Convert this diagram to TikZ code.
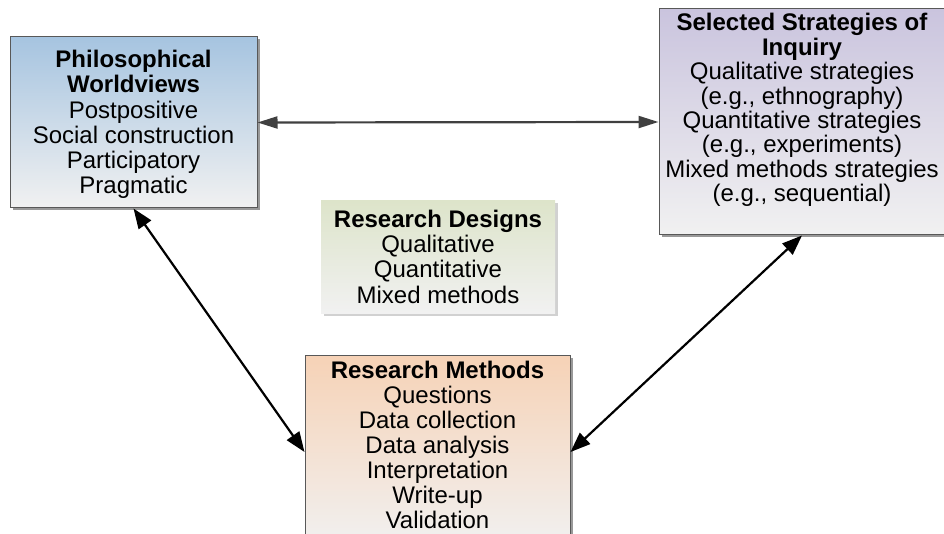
\documentclass[tikz,border=0pt]{standalone}
\usepackage{fontspec}
\setmainfont{Liberation Sans}
\usetikzlibrary{arrows.meta,shadows}

\definecolor{pwtop}{RGB}{166,196,224}
\definecolor{sstop}{RGB}{202,196,222}
\definecolor{rdtop}{RGB}{221,228,202}
\definecolor{rmtop}{RGB}{246,210,182}
\definecolor{panelbottom}{RGB}{241,241,241}
\definecolor{framegray}{RGB}{88,88,88}
\definecolor{linkgray}{RGB}{64,64,64}

\begin{document}
\begin{tikzpicture}[x=1pt,y=-1pt,
  panel/.style={draw=framegray, line width=1pt, inner sep=0pt,
    shading=axis, bottom color=panelbottom,
    drop shadow={shadow xshift=2.5pt, shadow yshift=-2.5pt, fill=black!40, opacity=1}},
  plainpanel/.style={inner sep=0pt, shading=axis, bottom color=panelbottom,
    drop shadow={shadow xshift=2.5pt, shadow yshift=-2.5pt, fill=black!18, opacity=1}},
  label/.style={align=center, inner sep=0pt, font=\fontsize{24}{25.3}\selectfont},
  tightlabel/.style={label, font=\fontsize{24}{24.4}\selectfont},
  methodslabel/.style={label, font=\fontsize{24}{25}\selectfont},
  link/.style={line width=2.2pt, {Triangle[length=20pt,width=15pt]}-{Triangle[length=20pt,width=15pt]}},
  graylink/.style={line width=2.2pt, draw=linkgray,
    {Triangle[length=20pt,width=12pt]}-{Triangle[length=20pt,width=12pt]}}]

\useasboundingbox (0,0) rectangle (944,534);
\clip (0,0) rectangle (944,534);

% Philosophical worldviews
\node[panel, top color=pwtop, minimum width=247pt, minimum height=171pt]
  (pw) at (133.5,122.5) {};
\node[label] (pwtext) at (133.5,124.5) {\textbf{Philosophical}\\\textbf{Worldviews}\\Postpositive\\Social construction\\Participatory\\Pragmatic};

% Selected strategies of inquiry
\node[panel, top color=sstop, minimum width=286pt, minimum height=226pt]
  (ss) at (802,122) {};
\node[tightlabel] (sstext) at (802,110) {\textbf{Selected Strategies of}\\\textbf{Inquiry}\\Qualitative strategies\\(e.g., ethnography)\\Quantitative strategies\\(e.g., experiments)\\Mixed methods strategies\\(e.g., sequential)};

% Research designs
\node[plainpanel, top color=rdtop, minimum width=234pt, minimum height=112pt]
  (rd) at (438,257) {};
\node[label] (rdtext) at (438,256.5) {\textbf{Research Designs}\\Qualitative\\Quantitative\\Mixed methods};

% Research methods
\node[panel, top color=rmtop, minimum width=265pt, minimum height=194pt]
  (rm) at (437.5,452) {};
\node[methodslabel] (rmtext) at (437.5,445) {\textbf{Research Methods}\\Questions\\Data collection\\Data analysis\\Interpretation\\Write-up\\Validation};

% Connectors
\draw[graylink] (pw.east) -- (ss.west);
\draw[link] (pw.south) -- (rm.west);
\draw[link] (ss.south) -- (rm.east);

\end{tikzpicture}
\end{document}
